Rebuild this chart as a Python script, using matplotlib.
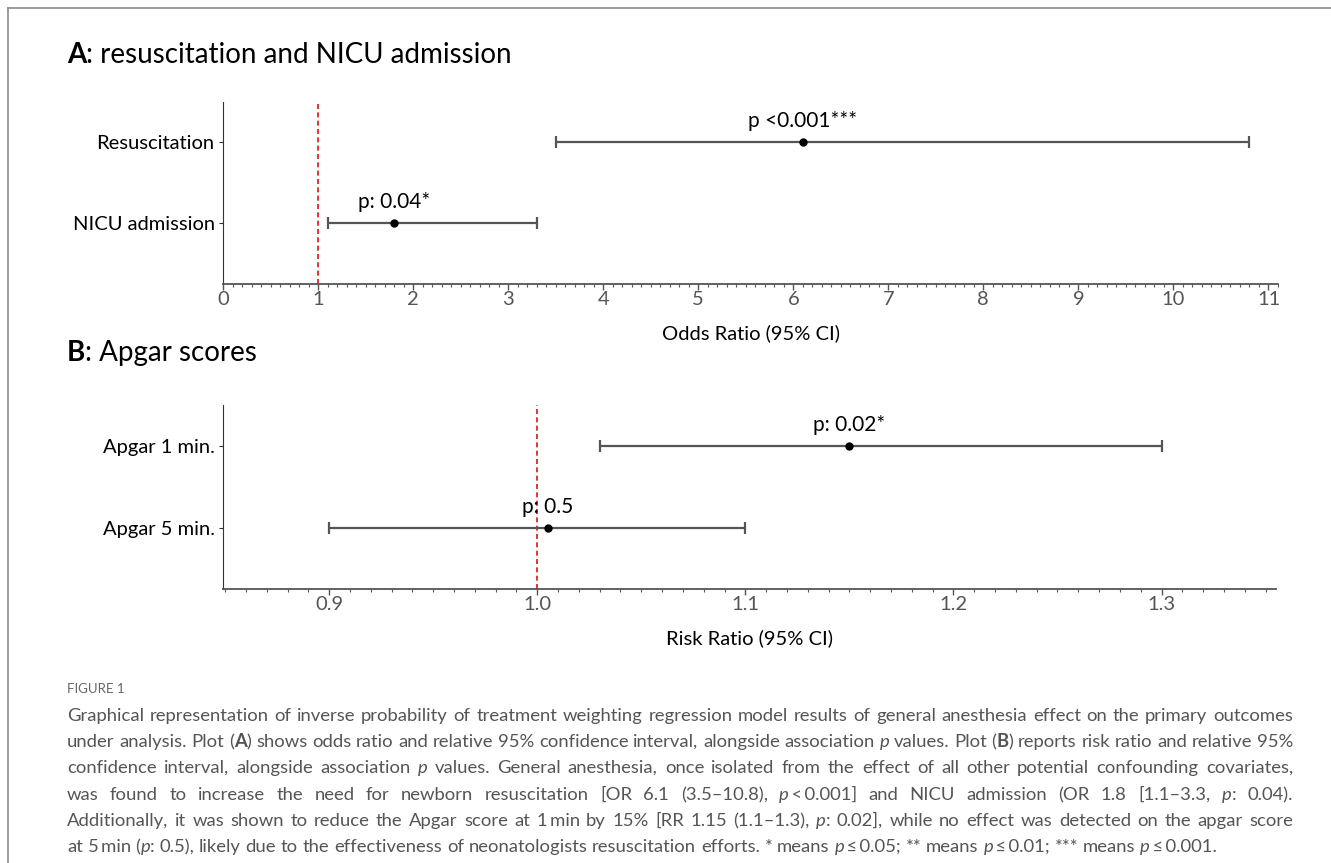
import re
import matplotlib
matplotlib.use("Agg")
import matplotlib.pyplot as plt
from matplotlib.ticker import MultipleLocator
from matplotlib.lines import Line2D

plt.rcParams['font.family'] = ['Lato', 'DejaVu Sans']

W, H = 1331, 863

# panel A: odds ratios
a_labels = ['Resuscitation', 'NICU admission']
a_est = [6.1, 1.8]
a_low = [3.5, 1.1]
a_high = [10.8, 3.3]
a_ptxt = ['p <0.001***', 'p: 0.04*']

# panel B: risk ratios
b_labels = ['Apgar 1 min.', 'Apgar 5 min.']
b_est = [1.15, 1.005]
b_low = [1.03, 0.90]
b_high = [1.30, 1.10]
b_ptxt = ['p: 0.02*', 'p: 0.5']

caption_lines = [
    "Graphical representation of inverse probability of treatment weighting regression model results of general anesthesia effect on the primary outcomes",
    "under analysis. Plot ({b:A}) shows odds ratio and relative 95% confidence interval, alongside association {i:p} values. Plot ({b:B}) reports risk ratio and relative 95%",
    "confidence interval, alongside association {i:p} values. General anesthesia, once isolated from the effect of all other potential confounding covariates,",
    "was found to increase the need for newborn resuscitation [OR 6.1 (3.5\u201310.8), {i:p}\u2009<\u20090.001] and NICU admission (OR 1.8 [1.1\u20133.3, {i:p}: 0.04).",
    "Additionally, it was shown to reduce the Apgar score at 1\u2009min by 15% [RR 1.15 (1.1\u20131.3), {i:p}: 0.02], while no effect was detected on the apgar score",
    "at 5\u2009min ({i:p}: 0.5), likely due to the effectiveness of neonatologists resuscitation efforts. * means {i:p}\u2009\u2264\u20090.05; ** means {i:p}\u2009\u2264\u20090.01; *** means {i:p}\u2009\u2264\u20090.001.",
]

fig = plt.figure(figsize=(W / 100, H / 100), dpi=100)
r = fig.canvas.get_renderer()


def px(x, y):
    return x / W, 1 - y / H


def draw_panel(ax, labels, est, low, high, ptxt, xlim, major, minor, xlabel, labelpad):
    ys = list(range(len(labels)))[::-1]
    xerr = [[e - l for e, l in zip(est, low)], [h - e for e, h in zip(est, high)]]
    ax.axvline(1, color='#e01010', ls=(0, (3, 2)), lw=1.2, zorder=1)
    ax.errorbar(est, ys, xerr=xerr, fmt='o', color='black', ecolor='#555555',
                elinewidth=1.6, capsize=4, capthick=1.6, markersize=5, zorder=3)
    for e, y, t in zip(est, ys, ptxt):
        ax.annotate(t, (e, y), xytext=(0, 8), textcoords='offset points',
                    ha='center', va='bottom', fontsize=15, color='black')
    ax.set_xlim(*xlim)
    ax.set_ylim(-0.75, 1.5)
    ax.set_yticks(ys)
    ax.set_yticklabels(labels, fontsize=14.5)
    ax.xaxis.set_major_locator(MultipleLocator(major))
    ax.xaxis.set_minor_locator(MultipleLocator(minor))
    ax.tick_params(axis='x', which='major', length=4, width=1, color='#555555',
                   labelsize=14.5, labelcolor='#555555', pad=1)
    ax.tick_params(axis='x', which='minor', length=2.5, width=0.8, color='#555555')
    ax.tick_params(axis='y', length=3, width=0.8, color='#333333', pad=3)
    ax.set_xlabel(xlabel, fontsize=14.5, labelpad=labelpad)
    for s in ('top', 'right'):
        ax.spines[s].set_visible(False)
    ax.spines['left'].set_color('#333333')
    ax.spines['bottom'].set_color('#555555')
    ax.spines['bottom'].set_linewidth(1.3)


axA = fig.add_axes([223 / W, 1 - 284 / H, (1278 - 223) / W, (284 - 102) / H])
draw_panel(axA, a_labels, a_est, a_low, a_high, a_ptxt, (0, 11.1), 1, 0.1,
           'Odds Ratio (95% CI)', 12)
axA.xaxis.set_major_formatter(matplotlib.ticker.FormatStrFormatter('%d'))

axB = fig.add_axes([223 / W, 1 - 589 / H, (1276 - 223) / W, (589 - 405) / H])
draw_panel(axB, b_labels, b_est, b_low, b_high, b_ptxt, (0.849, 1.355), 0.1, 0.01,
           'Risk Ratio (95% CI)', 12)
axB.xaxis.set_major_formatter(matplotlib.ticker.FormatStrFormatter('%.1f'))


def style_kw(style):
    if style == 'b':
        return {'fontweight': 'bold'}
    if style == 'i':
        return {'fontstyle': 'italic'}
    return {}


def rich_text(x, y, segments, size, color):
    # y is the baseline in px; returns width in px
    xx = x
    for txt, style in segments:
        t = fig.text(*px(xx, y), txt, fontsize=size, color=color, va='baseline',
                     ha='left', **style_kw(style))
        xx += t.get_window_extent(renderer=r).width
    return xx - x


def parse_word(word):
    segs = []
    pos = 0
    for m in re.finditer(r"\{([ib]):([^}]*)\}", word):
        if m.start() > pos:
            segs.append((word[pos:m.start()], None))
        segs.append((m.group(2), m.group(1)))
        pos = m.end()
    if pos < len(word):
        segs.append((word[pos:], None))
    return segs


def measure(segs, size):
    w = 0
    for txt, style in segs:
        t = fig.text(0, 0, txt, fontsize=size, **style_kw(style))
        w += t.get_window_extent(renderer=r).width
        t.remove()
    return w


# panel titles
rich_text(67, 63, [('A', 'b'), (': resuscitation and NICU admission', None)], 20, 'black')
rich_text(67, 361, [('B', 'b'), (': Apgar scores', None)], 20, 'black')

# caption, justified word by word
cap_color = '#555555'
fig.text(*px(67, 693), 'FIGURE 1', fontsize=9.5, color='#666666', va='baseline')
x0, x1 = 67, 1293
cap_size = 13.3
space_w = measure([('a a', None)], cap_size) - measure([('aa', None)], cap_size)
for i, line in enumerate(caption_lines):
    y = round(721 + i * 26.2)
    words = [parse_word(w) for w in line.split(' ')]
    widths = [measure(w, cap_size) for w in words]
    last = i == len(caption_lines) - 1
    gap = space_w if last else (x1 - x0 - sum(widths)) / (len(words) - 1)
    x = x0
    for w, wd in zip(words, widths):
        rich_text(x, y, w, cap_size, cap_color)
        x += wd + gap

# frame lines (top and left)
fig.add_artist(Line2D([8 / W, 1], [1 - 8 / H, 1 - 8 / H], transform=fig.transFigure,
                      color='#8a8a8a', lw=1.2))
fig.add_artist(Line2D([8 / W, 8 / W], [0, 1 - 8 / H], transform=fig.transFigure,
                      color='#8a8a8a', lw=1.2))

fig.savefig('out.png', dpi=100)
